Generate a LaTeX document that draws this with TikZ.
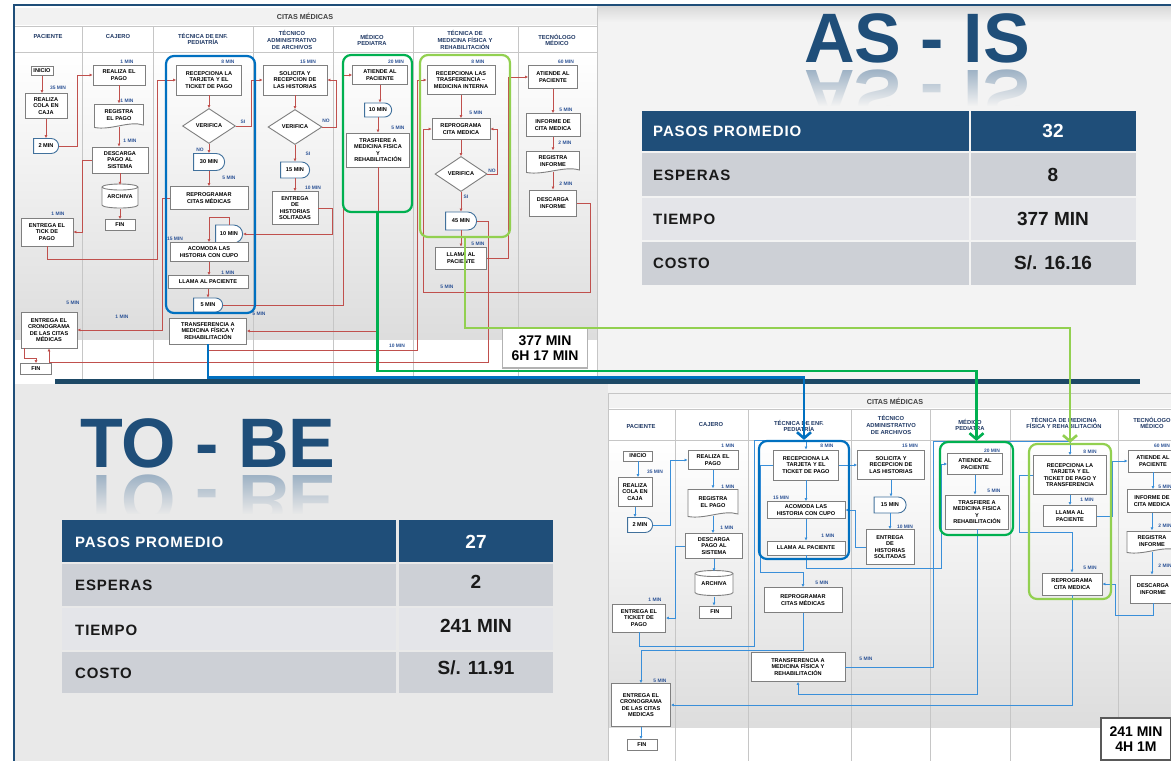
\documentclass[tikz,border=0pt]{standalone}
\usepackage{fontspec}
\setmainfont{Liberation Sans}
\newfontfamily\tblfam[LetterSpace=6]{Liberation Sans}
\usetikzlibrary{arrows.meta,shapes.geometric,shapes.misc,fadings,calc}
\definecolor{navy}{HTML}{1F4E79}
\definecolor{sepnavy}{HTML}{1D4966}
\definecolor{redc}{HTML}{C0504D}
\definecolor{bluec}{HTML}{3A8FD9}
\definecolor{boxgray}{HTML}{7F7F7F}
\definecolor{delblue}{HTML}{41719C}
\definecolor{lblblue}{HTML}{2F5597}
\definecolor{hdblue}{HTML}{1F3864}
\definecolor{gblue}{HTML}{0070C0}
\definecolor{gdgreen}{HTML}{00B050}
\definecolor{glgreen}{HTML}{92D050}
\definecolor{rowdark}{HTML}{CDD0D6}
\definecolor{rowlight}{HTML}{E4E5E9}
\definecolor{bgtop}{HTML}{F3F3F3}
\definecolor{bgbot}{HTML}{E9E9E9}
\tikzfading[name=reflfade, top color=transparent!100, bottom color=transparent!0]
\newcommand{\bxf}{\fontsize{5.6}{6.5}\selectfont\bfseries}
\newcommand{\lbf}{\fontsize{4.9}{5}\selectfont\bfseries}
\newcommand{\hdf}{\fontsize{5.8}{6.6}\selectfont\bfseries}
\newcommand{\tblf}{\tblfam\fontsize{15}{17}\selectfont\bfseries}
\newcommand{\valf}{\fontsize{19}{21}\selectfont\bfseries}
\newcommand{\ttlf}{\fontsize{70}{70}\selectfont\bfseries}
\newcommand{\totf}{\fontsize{14}{15.5}\selectfont\bfseries}
\newcommand{\docpath}[4]{%
 \pgfmathsetmacro{\dsL}{#1-#3/2}\pgfmathsetmacro{\dsR}{#1+#3/2}%
 \pgfmathsetmacro{\dsT}{#2-#4/2}\pgfmathsetmacro{\dsB}{#2+#4/2}%
 \draw[draw=boxgray, line width=0.9pt, fill=white] (\dsL,\dsT) -- (\dsR,\dsT) -- (\dsR,\dsB-2.5) .. controls (\dsR-#3*0.3,\dsB-7) and (\dsL+#3*0.35,\dsB+3) .. (\dsL,\dsB) -- cycle;}
\newcommand{\cylpath}[4]{%
 \pgfmathsetmacro{\dsL}{#1-#3/2}\pgfmathsetmacro{\dsR}{#1+#3/2}%
 \pgfmathsetmacro{\dsT}{#2-#4/2+3}\pgfmathsetmacro{\dsB}{#2+#4/2-3}%
 \pgfmathsetmacro{\dsH}{#3/2}%
 \draw[draw=boxgray, line width=0.9pt, fill=white] (\dsL,\dsT) -- (\dsL,\dsB) arc[start angle=180, end angle=0, x radius=\dsH, y radius=3] -- (\dsR,\dsT) arc[start angle=0, end angle=-180, x radius=\dsH, y radius=3] -- cycle;
 \draw[draw=boxgray, line width=0.9pt] (\dsL,\dsT) arc[start angle=180, end angle=0, x radius=\dsH, y radius=3];}
\newcommand{\vconn}[3]{\draw[#1] (#2.south) -- (#2.south |- #3.north);}
\tikzset{
 box/.style={draw=boxgray, line width=0.9pt, fill=white, font=\bxf, align=center, inner sep=0.3pt},
 plain/.style={draw=none, fill=none, font=\bxf, align=center, inner sep=0.3pt},
 delay/.style={rounded rectangle, rounded rectangle left arc=none, draw=delblue, line width=0.9pt, fill=white, font=\bxf, inner sep=0.5pt},
 dia/.style={diamond, draw=boxgray, line width=0.9pt, fill=white, font=\bxf, inner sep=0pt},
 sz/.style 2 args={minimum width=#1pt, minimum height=#2pt},
 lbl/.style={font=\lbf, text=lblblue, inner sep=0pt},
 hd/.style={font=\hdf, text=hdblue, align=center, inner sep=0pt},
 rc/.style={draw=redc, line width=0.9pt, -{Latex[length=3pt,width=3pt]}},
 bc/.style={draw=bluec, line width=0.9pt, -{Latex[length=3pt,width=3pt]}},
 grp/.style={draw=#1, line width=2.2pt, rounded corners=8pt, fill=none, inner sep=0pt},
 big/.style={draw=#1, line width=2.6pt, -{Straight Barb[length=6pt,width=14pt]}},
 lane/.style={draw=gray!45, line width=0.8pt},
 tot/.style={draw=gray!60, line width=1.8pt, fill=white, font=\totf, align=center, inner sep=0pt},
 tlab/.style={anchor=west, font=\tblf, inner sep=0pt},
 tval/.style={font=\valf, inner sep=0pt},
}
\begin{document}
\begin{tikzpicture}[x=1pt,y=-1pt]
\useasboundingbox (0,0) rectangle (1171,761);
\clip (0,0) rectangle (1171,761);
% ---------- backgrounds
\fill[white] (0,0) rectangle (1171,761);
\fill[bgtop] (597,6) rectangle (1171,384);
\shade[top color=gray!30, bottom color=bgtop] (597,6) rectangle (1171,22);
\fill[bgbot] (15,384) rectangle (608,761);
\fill[bgtop] (608,384) rectangle (1171,393);
\draw[navy, line width=1.5pt] (14,761) -- (14,5) -- (1171,5);

% ---------- AS-IS chart frame
\fill[gray!10] (15,8) rectangle (597,25);
\node[font=\fontsize{7.2}{7.5}\selectfont\bfseries, text=black!75] (aTitle) at (305,16.5) {CITAS MÉDICAS};
\fill[white] (15,26) rectangle (597,52);
\shade[top color=white, bottom color=gray!27] (15,52) rectangle (597,340);
\fill[white] (15,340) rectangle (597,379);
\foreach \x in {82,153,253,333,413,518} \draw[lane] (\x,26) -- (\x,379);
\draw[lane] (15,26) -- (597,26) (15,52) -- (597,52) (597,8) -- (597,379);
\node[hd] (ah1) at (48,37) {PACIENTE};
\node[hd] (ah2) at (118,37) {CAJERO};
\node[hd] (ah3) at (203,39) {TÉCNICA DE ENF.\\PEDIATRÍA};
\node[hd] (ah4) at (292,40) {TÉCNICO\\ADMINISTRATIVO\\DE ARCHIVOS};
\node[hd] (ah5) at (372,40) {MÉDICO\\PEDIATRA};
\node[hd] (ah6) at (465,40) {TÉCNICA DE\\MEDICINA FÍSICA Y\\REHABILITACIÓN};
\node[hd] (ah7) at (557,40) {TECNÓLOGO\\MÉDICO};

% ---------- AS-IS shapes
\docpath{119}{116}{49}{23}
\docpath{553}{162}{53}{21}
\cylpath{120}{196}{36}{24}
\node[box, sz={22}{9}] (aIni) at (42,71) {INICIO};
\node[box, sz={42}{25}] (aCola) at (46,106) {REALIZA\\COLA EN\\CAJA};
\node[delay, sz={26}{15}] (aD2) at (46,146) {2 MIN};
\node[box, sz={52}{20}] (aPago) at (119,75) {REALIZA EL\\PAGO};
\node[plain, sz={49}{23}] (aReg) at (119,115) {REGISTRA\\EL PAGO};
\node[box, sz={56}{26}] (aDesc) at (120,160) {DESCARGA\\PAGO AL\\SISTEMA};
\node[plain, sz={36}{24}] (aArch) at (120,197) {ARCHIVA};
\node[box, sz={30}{11}] (aFin1) at (120,225) {FIN};
\node[box, sz={52}{28}] (aTick) at (47,232) {ENTREGA EL\\TICK DE\\PAGO};
\node[box, sz={65}{30}] (aRecep) at (209,80) {RECEPCIONA LA\\TARJETA Y EL\\TICKET DE PAGO};
\node[dia, sz={53}{35}] (aVer1) at (209,126) {VERIFICA};
\node[delay, sz={32}{17}] (aD30) at (209,162) {30 MIN};
\node[box, sz={78}{23}] (aRepro) at (209,198) {REPROGRAMAR\\CITAS MÉDICAS};
\node[delay, sz={28}{18}] (aD10) at (229,234) {10 MIN};
\node[box, sz={78}{19}] (aAcom) at (209,252) {ACOMODA LAS\\HISTORIA CON CUPO};
\node[box, sz={80}{13}] (aLlama) at (208,282) {LLAMA AL PACIENTE};
\node[delay, sz={30}{14}] (aD5) at (208,305) {5 MIN};
\node[box, sz={77}{26}] (aTransf) at (208,331) {TRANSFERENCIA A\\MEDICINA FÍSICA Y\\REHABILITACIÓN};
\node[box, sz={56}{36}] (aCrono) at (49,330) {ENTREGA EL\\CRONOGRAMA\\DE LAS CITAS\\MÉDICAS};
\node[box, sz={31}{11}] (aFin2) at (36,369) {FIN};
\node[box, sz={64}{30}] (aSolic) at (295,80) {SOLICITA Y\\RECEPCION DE\\LAS HISTORIAS};
\node[dia, sz={54}{35}] (aVer2) at (295,127) {VERIFICA};
\node[delay, sz={30}{16}] (aD15) at (295,170) {15 MIN};
\node[box, sz={46}{33}] (aEntH) at (295,208) {ENTREGA\\DE\\HISTORIAS\\SOLITADAS};
\node[box, sz={55}{19}] (aAtiende) at (380,75) {ATIENDE AL\\PACIENTE};
\node[delay, sz={28}{14}] (aD10b) at (378,110) {10 MIN};
\node[box, sz={63}{34}] (aTrasf) at (378,150) {TRASFIERE A\\MEDICINA FISICA\\Y\\REHABILITACIÓN};
\node[box, sz={68}{29}] (aRecT) at (461,80) {RECEPCIONA LAS\\TRASFERENCIA –\\MEDICINA INTERNA};
\node[box, sz={58}{21}] (aRepC) at (461,129) {REPROGRAMA\\CITA MEDICA};
\node[dia, sz={52}{35}] (aVer3) at (461,174) {VERIFICA};
\node[delay, sz={32}{18}] (aD45) at (461,221) {45 MIN};
\node[box, sz={51}{22}] (aLlama2) at (461,258) {LLAMA AL\\PACIENTE};
\node[box, sz={49}{23}] (aAtT) at (553,77) {ATIENDE AL\\PACIENTE};
\node[box, sz={54}{23}] (aInf) at (553,125) {INFORME DE\\CITA MEDICA};
\node[plain, sz={53}{21}] (aRegI) at (553,161) {REGISTRA\\INFORME};
\node[box, sz={47}{26}] (aDescI) at (553,203) {DESCARGA\\INFORME};
\node[tot, sz={85}{40}] (aTot) at (545,348) {377 MIN\\6H 17 MIN};

% AS-IS labels
\node[lbl] (la1) at (58,88) {35 MIN};
\node[lbl] (la2) at (127,62) {1 MIN};
\node[lbl] (la3) at (127,101) {1 MIN};
\node[lbl] (la4) at (130,141) {1 MIN};
\node[lbl] (la5) at (58,214) {1 MIN};
\node[lbl] (la6) at (228,62) {8 MIN};
\node[lbl] (la7) at (243,122) {SI};
\node[lbl] (la8) at (200,150) {NO};
\node[lbl] (la9) at (229,178) {5 MIN};
\node[lbl] (la10) at (175,239) {15 MIN};
\node[lbl] (la11) at (228,273) {1 MIN};
\node[lbl] (la12) at (73,303) {5 MIN};
\node[lbl] (la13) at (122,317) {1 MIN};
\node[lbl] (la14) at (308,62) {15 MIN};
\node[lbl] (la15) at (326,121) {NO};
\node[lbl] (la16) at (308,154) {SI};
\node[lbl] (la17) at (313,188) {10 MIN};
\node[lbl] (la18) at (396,62) {20 MIN};
\node[lbl] (la19) at (398,128) {5 MIN};
\node[lbl] (la20) at (478,62) {8 MIN};
\node[lbl] (la21) at (476,113) {5 MIN};
\node[lbl] (la22) at (492,171) {NO};
\node[lbl] (la23) at (466,197) {SI};
\node[lbl] (la24) at (478,244) {5 MIN};
\node[lbl] (la25) at (566,62) {60 MIN};
\node[lbl] (la26) at (566,110) {5 MIN};
\node[lbl] (la27) at (565,143) {2 MIN};
\node[lbl] (la28) at (566,184) {2 MIN};
\node[lbl] (la29) at (447,287) {5 MIN};
\node[lbl] (la30) at (397,346) {10 MIN};
\node[lbl] (la31) at (259,314) {5 MIN};

% AS-IS connectors
\vconn{rc}{aIni}{aCola}
\vconn{rc}{aCola}{aD2}
\vconn{rc}{aPago}{aReg}
\vconn{rc}{aReg}{aDesc}
\vconn{rc}{aDesc}{aArch}
\vconn{rc}{aArch}{aFin1}
\vconn{rc}{aRecep}{aVer1}
\vconn{rc}{aVer1}{aD30}
\vconn{rc}{aD30}{aRepro}
\vconn{rc}{aAcom}{aLlama}
\vconn{rc}{aLlama}{aD5}
\vconn{rc}{aSolic}{aVer2}
\vconn{rc}{aVer2}{aD15}
\vconn{rc}{aD15}{aEntH}
\vconn{rc}{aAtiende}{aD10b}
\vconn{rc}{aD10b}{aTrasf}
\vconn{rc}{aRecT}{aRepC}
\vconn{rc}{aRepC}{aVer3}
\vconn{rc}{aVer3}{aD45}
\vconn{rc}{aD45}{aLlama2}
\vconn{rc}{aAtT}{aInf}
\vconn{rc}{aInf}{aRegI}
\vconn{rc}{aRegI}{aDescI}
\draw[rc] (aD2.east) -- ++(18,0) |- (aPago.west);
\draw[rc] (aDesc.west) -- ++(-9,0) |- (aTick.east);
\draw[rc] (aTick.south) |- (157,259) |- (aRecep.west);
\draw[rc] (aVer1.east) -- ++(15,0) |- (aSolic.west);
\draw[rc] (aRepro.west) -- ++(-7,0) |- (aCrono.east);
\draw[rc] (aVer2.east) -- ++(14,0) |- (aSolic.east);
\draw[rc] (aEntH.east) -- ++(14,0) |- (aD10.east);
\draw[rc] (aD10.north) -- ++(0,-7) -| (aAcom.north);
\draw[rc] (aD5.east) -- ++(120,0) |- (aAtiende.west);
\draw[rc] (aTrasf.south) |- (aTransf.east);
\draw[rc] (aTransf.south) -- ++(0,6) -| ([xshift=-9pt]aRecT.west) -- (aRecT.west);
\draw[rc] (aVer3.east) -- ++(10,0) |- (aRepC.east);
\draw[rc] (aD45.east) -- ++(11,0) |- ([yshift=-14pt]aCrono.south) -- (aCrono.south);
\draw[rc] (aLlama2.east) -- ++(21,0) |- (aAtT.west);
\draw[rc] (aDescI.east) -- ++(13,0) -- ++(0,89) -| ([xshift=-8pt]aRepC.west) -- (aRepC.west);
\draw[rc] ([xshift=4pt]aCrono.south west) -- ++(0,10) -| (aFin2.north);

% AS-IS groups
\node[grp=gblue, sz={89}{257}] (gA1) at (210.5,184.5) {};
\node[grp=gdgreen, sz={69}{157}] (gA2) at (377.5,133.5) {};
\node[grp=glgreen, sz={90}{182}] (gA3) at (465,146) {};

% ---------- TO-BE chart frame
\fill[gray!10] (608,393) rectangle (1171,408);
\node[font=\fontsize{7.2}{7.5}\selectfont\bfseries, text=black!75] (bTitle) at (895,401) {CITAS MÉDICAS};
\fill[white] (608,409) rectangle (1171,440);
\shade[top color=white, bottom color=gray!27] (608,440) rectangle (1171,728);
\fill[white] (608,728) rectangle (1171,761);
\foreach \x in {675,748,851,930,1010,1118} \draw[lane] (\x,409) -- (\x,761);
\draw[lane] (608,393) -- (1171,393) (608,409) -- (1171,409) (608,440) -- (1171,440) (608,393) -- (608,761);
\node[hd] (bh1) at (641,426) {PACIENTE};
\node[hd] (bh2) at (711,424) {CAJERO};
\node[hd] (bh3) at (799,426) {TÉCNICA DE ENF.\\PEDIATRÍA};
\node[hd] (bh4) at (891,425) {TÉCNICO\\ADMINISTRATIVO\\DE ARCHIVOS};
\node[hd] (bh5) at (970,425) {MÉDICO\\PEDIATRA};
\node[hd] (bh6) at (1064,423) {TÉCNICA DE MEDICINA\\FÍSICA Y REHABILITACIÓN};
\node[hd] (bh7) at (1152,423) {TECNÓLOGO\\MÉDICO};

% TO-BE shapes
\docpath{713}{503}{50}{27}
\docpath{1152}{542}{50}{21}
\cylpath{714}{583}{38}{25}
\node[box, sz={29}{10}] (bIni) at (638,456) {INICIO};
\node[box, sz={34}{29}] (bCola) at (635,492) {REALIZA\\COLA EN\\CAJA};
\node[delay, sz={26}{15}] (bD2) at (640,525) {2 MIN};
\node[box, sz={50}{19}] (bPago) at (713,460) {REALIZA EL\\PAGO};
\node[plain, sz={50}{27}] (bReg) at (713,502) {REGISTRA\\EL PAGO};
\node[box, sz={57}{25}] (bDesc) at (714,546) {DESCARGA\\PAGO AL\\SISTEMA};
\node[plain, sz={38}{25}] (bArch) at (714,584) {ARCHIVA};
\node[box, sz={32}{12}] (bFin1) at (715,612) {FIN};
\node[box, sz={53}{28}] (bTick) at (639,618) {ENTREGA EL\\TICKET DE\\PAGO};
\node[box, sz={59}{43}] (bCrono) at (641,705) {ENTREGA EL\\CRONOGRAMA\\DE LAS CITAS\\MEDICAS};
\node[box, sz={30}{11}] (bFin2) at (642,745) {FIN};
\node[box, sz={65}{30}] (bRecep) at (806,465) {RECEPCIONA LA\\TARJETA Y EL\\TICKET DE PAGO};
\node[box, sz={78}{17}] (bAcom) at (806,510) {ACOMODA LAS\\HISTORIA CON CUPO};
\node[box, sz={78}{14}] (bLlama) at (806,548) {LLAMA AL PACIENTE};
\node[box, sz={78}{25}] (bRepro) at (803,600) {REPROGRAMAR\\CITAS MÉDICAS};
\node[box, sz={94}{29}] (bTransf) at (798,667) {TRANSFERENCIA A\\MEDICINA FÍSICA Y\\REHABILITACIÓN};
\node[box, sz={67}{29}] (bSolic) at (891,465) {SOLICITA Y\\RECEPCION DE\\LAS HISTORIAS};
\node[delay, sz={33}{16}] (bD15) at (890,505) {15 MIN};
\node[box, sz={48}{35}] (bEntH) at (890,547) {ENTREGA\\DE\\HISTORIAS\\SOLITADAS};
\node[box, sz={55}{21}] (bAtiende) at (975,464) {ATIENDE AL\\PACIENTE};
\node[box, sz={63}{34}] (bTrasf) at (977,512) {TRASFIERE A\\MEDICINA FISICA\\Y\\REHABILITACIÓN};
\node[box, sz={73}{39}] (bRecT) at (1070,475) {RECEPCIONA LA\\TARJETA Y EL\\TICKET DE PAGO Y\\TRANSFERENCIA};
\node[box, sz={53}{21}] (bLlama2) at (1070,516) {LLAMA AL\\PACIENTE};
\node[box, sz={60}{22}] (bRepC) at (1072,584) {REPROGRAMA\\CITA MEDICA};
\node[box, sz={50}{22}] (bAtT) at (1153,461) {ATIENDE AL\\PACIENTE};
\node[box, sz={50}{23}] (bInf) at (1152,501) {INFORME DE\\CITA MEDICA};
\node[plain, sz={50}{21}] (bRegI) at (1152,541) {REGISTRA\\INFORME};
\node[box, sz={46}{28}] (bDescI) at (1153,589) {DESCARGA\\INFORME};

% TO-BE labels
\node[lbl] (lb1) at (655,472) {35 MIN};
\node[lbl] (lb2) at (728,446) {1 MIN};
\node[lbl] (lb3) at (728,487) {1 MIN};
\node[lbl] (lb4) at (727,528) {1 MIN};
\node[lbl] (lb5) at (655,600) {1 MIN};
\node[lbl] (lb6) at (660,681) {5 MIN};
\node[lbl] (lb7) at (827,446) {8 MIN};
\node[lbl] (lb8) at (781,498) {15 MIN};
\node[lbl] (lb9) at (828,536) {1 MIN};
\node[lbl] (lb10) at (822,583) {5 MIN};
\node[lbl] (lb11) at (866,659) {5 MIN};
\node[lbl] (lb12) at (910,446) {15 MIN};
\node[lbl] (lb13) at (905,527) {10 MIN};
\node[lbl] (lb14) at (992,451) {20 MIN};
\node[lbl] (lb15) at (994,491) {5 MIN};
\node[lbl] (lb16) at (1090,452) {8 MIN};
\node[lbl] (lb17) at (1087,500) {1 MIN};
\node[lbl] (lb18) at (1090,568) {5 MIN};
\node[lbl] (lb19) at (1162,446) {60 MIN};
\node[lbl] (lb20) at (1165,487) {5 MIN};
\node[lbl] (lb21) at (1165,526) {2 MIN};
\node[lbl] (lb22) at (1165,566) {2 MIN};

% TO-BE connectors
\vconn{bc}{bIni}{bCola}
\vconn{bc}{bCola}{bD2}
\vconn{bc}{bPago}{bReg}
\vconn{bc}{bReg}{bDesc}
\vconn{bc}{bDesc}{bArch}
\vconn{bc}{bArch}{bFin1}
\vconn{bc}{bRecep}{bAcom}
\vconn{bc}{bAcom}{bLlama}
\vconn{bc}{bSolic}{bD15}
\vconn{bc}{bD15}{bEntH}
\vconn{bc}{bAtiende}{bTrasf}
\vconn{bc}{bRecT}{bLlama2}
\vconn{bc}{bAtT}{bInf}
\vconn{bc}{bInf}{bRegI}
\vconn{bc}{bRegI}{bDescI}
\vconn{bc}{bCrono}{bFin2}
\draw[bc] (bD2.east) -- ++(17,0) |- (bPago.west);
\draw[bc] (bDesc.west) -- ++(-10,0) |- (bTick.east);
\draw[bc] (bTick.south) -- ++(0,14) -| (754,440) -| (bRecep.north);
\draw[bc] (bRecep.west) -- ++(-13,0) |- ([yshift=15pt]bRepro.north) -- (bRepro.north);
\draw[bc] (bRecep.east) -- (bSolic.west);
\draw[bc] (bEntH.west) -- ++(-10,0) |- (bAcom.east);
\draw[bc] (bLlama.south) -- ++(0,13) -| ([xshift=-6pt]bAtiende.west) -- (bAtiende.west);
\draw[bc] (bRepro.south) -- ++(0,37) -| (bCrono.north);
\draw[bc] (bTransf.east) -- ++(88,0) |- ([yshift=14pt]bRecT.north) -- (bRecT.north);
\draw[bc] (bTrasf.south) -- ++(0,165) -| (bTransf.south);
\draw[bc] (bRepC.south) |- (bCrono.east);
\draw[bc] (bRecT.west) -- ++(-14,0) |- ([yshift=40pt]bRepC.north) -- (bRepC.north);
\draw[bc] (bLlama2.east) -- ++(15,0) |- (bAtT.west);
\draw[bc] (bDescI.south) -- ++(0,12) -| ([xshift=13pt]bRepC.east) -- (bRepC.east);

% TO-BE groups
\node[grp=gblue, sz={90}{118}] (gB1) at (804,500) {};
\node[grp=gdgreen, sz={73}{93}] (gB2) at (976.5,488.5) {};
\node[grp=glgreen, sz={82}{155}] (gB3) at (1070,521.5) {};
\node[tot, draw=gray!70!black, sz={70}{42}] (bTot) at (1136,739) {241 MIN\\4H 1M};

% ---------- separator and big connectors
\draw[sepnavy, line width=5pt] (55,381) -- (1140,381);
\draw[big=gblue] (aTransf.south) -- ++(0,33) -| (gB1.north);
\draw[big=gdgreen] (gA2.south) -- ++(0,158) -| (gB2.north);
\draw[big=glgreen] (gA3.south) -- ++(0,90) -| (gB3.north);

% ---------- titles
\node[anchor=base, font=\ttlf, text=navy, inner sep=0pt] (asis) at (917,62) {AS - IS};
\node[anchor=base, yscale=-1, transform shape, font=\ttlf, text=navy!45, inner sep=0pt] (asisR) at (917,70) {AS - IS};
\fill[bgtop, path fading=reflfade] (790,68) rectangle (1050,106);
\fill[bgtop] (790,106) rectangle (1050,126);
\node[anchor=base, font=\ttlf, text=navy, inner sep=0pt] (tobe) at (208,467) {TO - BE};
\node[anchor=base, yscale=-1, transform shape, font=\ttlf, text=navy!45, inner sep=0pt] (tobeR) at (208,475) {TO - BE};
\fill[bgbot, path fading=reflfade] (60,473) rectangle (360,514);
\fill[bgbot] (60,514) rectangle (360,535);

% ---------- AS-IS table
\fill[navy] (642,111) rectangle (969,151);
\fill[navy] (971,111) rectangle (1136,151);
\fill[rowdark] (642,153) rectangle (969,196);
\fill[rowdark] (971,153) rectangle (1136,196);
\fill[rowlight] (642,198) rectangle (969,240);
\fill[rowlight] (971,198) rectangle (1136,240);
\fill[rowdark] (642,242) rectangle (969,285);
\fill[rowdark] (971,242) rectangle (1136,285);
\node[tlab, text=white] (ta1) at (653,131) {PASOS PROMEDIO};
\node[tlab, text=black!90] (ta2) at (653,175) {ESPERAS};
\node[tlab, text=black!90] (ta3) at (653,219) {TIEMPO};
\node[tlab, text=black!90] (ta4) at (653,263) {COSTO};
\node[tval, text=white] (tv1) at (1053,131) {32};
\node[tval, text=black!90] (tv2) at (1053,175) {8};
\node[tval, text=black!90] (tv3) at (1053,219) {377 MIN};
\node[tval, text=black!90] (tv4) at (1053,263) {S/. 16.16};

% ---------- TO-BE table
\fill[navy] (62,520) rectangle (396,562);
\fill[navy] (399,520) rectangle (553,562);
\fill[rowdark] (62,564) rectangle (396,606);
\fill[rowdark] (399,564) rectangle (553,606);
\fill[rowlight] (62,608) rectangle (396,650);
\fill[rowlight] (399,608) rectangle (553,650);
\fill[rowdark] (62,652) rectangle (396,693);
\fill[rowdark] (399,652) rectangle (553,693);
\node[tlab, text=white] (tb1) at (75,542) {PASOS PROMEDIO};
\node[tlab, text=black!90] (tb2) at (75,585) {ESPERAS};
\node[tlab, text=black!90] (tb3) at (75,630) {TIEMPO};
\node[tlab, text=black!90] (tb4) at (75,673) {COSTO};
\node[tval, text=white] (tw1) at (476,542) {27};
\node[tval, text=black!90] (tw2) at (476,582) {2};
\node[tval, text=black!90] (tw3) at (476,626) {241 MIN};
\node[tval, text=black!90] (tw4) at (476,668) {S/. 11.91};
\end{tikzpicture}
\end{document}
